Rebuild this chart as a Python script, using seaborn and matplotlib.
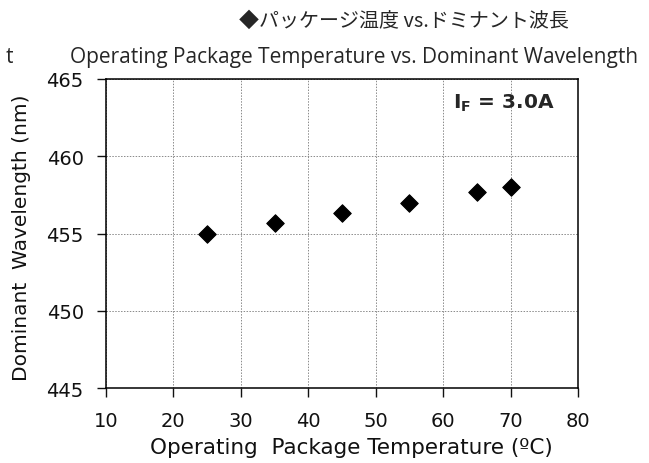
import numpy as np
import pandas as pd
import matplotlib
matplotlib.use("Agg")
import matplotlib.pyplot as plt
import seaborn as sns

# Values
temperature = [25, 35, 45, 55, 65, 70]
wavelength = [455.0, 455.65, 456.35, 457.0, 457.7, 458.0]
x_ticks = [10, 20, 30, 40, 50, 60, 70, 80]
y_ticks = [445, 450, 455, 460, 465]

df = pd.DataFrame({"temp": temperature, "wl": wavelength})

sns.set_style("white")
plt.rcParams["font.family"] = ["DejaVu Sans"]

fig = plt.figure(figsize=(6.49, 4.64), dpi=100)
ax = fig.add_axes([0.1633, 0.1616, 0.7273, 0.666])

sns.scatterplot(data=df, x="temp", y="wl", marker="D", s=80, color="black",
                edgecolor="black", ax=ax, zorder=3)

ax.set_xlim(10, 80)
ax.set_ylim(445, 465)
ax.set_xticks(x_ticks)
ax.set_yticks(y_ticks)
ax.grid(True, color="#8a8a8a", linestyle=(0, (1.5, 1.5)), linewidth=0.7)
for sp in ax.spines.values():
    sp.set_color("black")
    sp.set_linewidth(1.1)
ax.tick_params(axis="both", direction="out", length=6.5, width=1, colors="#111111",
               labelsize=14, left=True, bottom=True)
ax.tick_params(axis="y", pad=9.5)
ax.tick_params(axis="x", pad=10)

ax.set_xlabel("Operating  Package Temperature (ºC)", fontsize=15.5, va="center",
              color="#111111")
ax.xaxis.set_label_coords(0.52, (389 - 448) / 309)
ax.set_ylabel("Dominant  Wavelength (nm)", fontsize=14.5, va="center",
              color="#111111")
ax.yaxis.set_label_coords((22 - 106) / 472, 0.49)

ax.text(0.951, 0.926, r"$\mathbf{I_F}$ = 3.0A", transform=ax.transAxes,
        ha="right", va="center", fontsize=14.5, fontweight="bold")

fig.text(0.622, 0.955, "◆パッケージ温度 vs.ドミナント波長", ha="center", va="center",
         fontsize=14.4, family=["Noto Sans CJK JP", "DejaVu Sans"])
fig.text(0.545, 0.877, "Operating Package Temperature vs. Dominant Wavelength",
         ha="center", va="center", fontsize=15, family=["Open Sans"])
fig.text(0.008, 0.877, "t", ha="left", va="center", fontsize=15, family=["Open Sans"])

fig.savefig("out.png", dpi=100)
